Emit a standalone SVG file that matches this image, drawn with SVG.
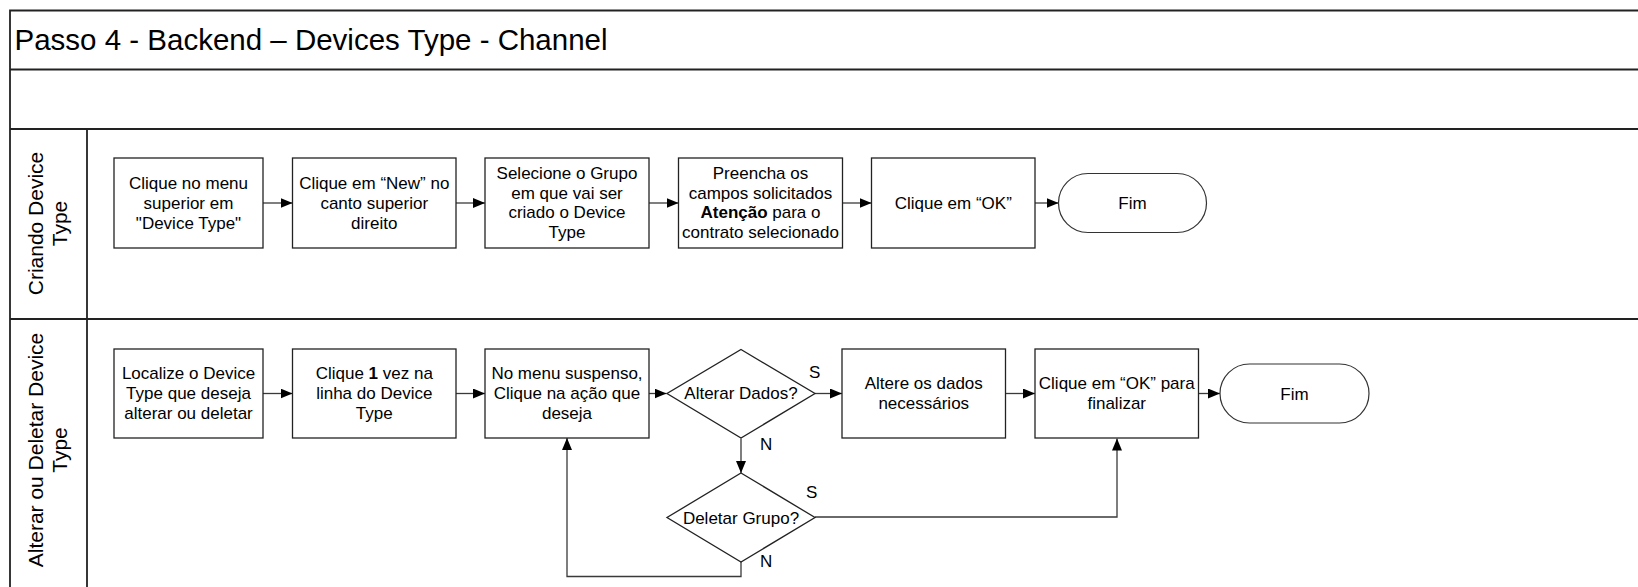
<svg xmlns="http://www.w3.org/2000/svg" width="1638" height="587" viewBox="0 0 1638 587">
<style>
.frame{fill:none;stroke:#222;stroke-width:1.8}
.box{fill:#fff;stroke:#222;stroke-width:1.3}
.term{fill:#fff;stroke:#333;stroke-width:1.2}
.t{font-family:"Liberation Sans",Arial,sans-serif;font-size:17px;fill:#000;text-anchor:middle}
.lbl{font-family:"Liberation Sans",Arial,sans-serif;font-size:17px;fill:#000}
.lane{font-family:"Liberation Sans",Arial,sans-serif;font-size:21px;fill:#000;text-anchor:middle}
.title{font-family:"Liberation Sans",Arial,sans-serif;font-size:29.5px;fill:#000}
.c{fill:none;stroke:#3a3a3a;stroke-width:1.3}
</style>
<defs>
<marker id="ah" markerUnits="userSpaceOnUse" markerWidth="12" markerHeight="10" refX="12" refY="5" orient="auto">
<path d="M0,0 L12,5 L0,10 z" fill="#000"/>
</marker>
</defs>
<rect width="1638" height="587" fill="#fff"/>
<g id="pool">
<path class="frame" d="M1640,10.5 H10 V590 M10,69.5 H1640 M10,129 H1640 M10,319 H1640 M87,129 V590"/>
<text class="title" x="14.5" y="50">Passo 4 - Backend – Devices Type - Channel</text>
</g>
<g id="lane1-label">
<text class="lane" transform="translate(42.5,223.5) rotate(-90)"><tspan x="0" y="0">Criando Device</tspan><tspan x="0" y="24">Type</tspan></text>
</g>
<g id="lane2-label">
<text class="lane" transform="translate(42.5,450) rotate(-90)"><tspan x="0" y="0">Alterar ou Deletar Device</tspan><tspan x="0" y="24">Type</tspan></text>
</g>
<g id="connectors">
<path class="c" marker-end="url(#ah)" d="M263,203 H292.5"/>
<path class="c" marker-end="url(#ah)" d="M456,203 H485"/>
<path class="c" marker-end="url(#ah)" d="M649,203 H678.5"/>
<path class="c" marker-end="url(#ah)" d="M842.5,203 H871.5"/>
<path class="c" marker-end="url(#ah)" d="M1035,203 H1058.5"/>
<path class="c" marker-end="url(#ah)" d="M263,393.5 H292.5"/>
<path class="c" marker-end="url(#ah)" d="M456,393.5 H485"/>
<path class="c" marker-end="url(#ah)" d="M649,393.5 H666.5"/>
<path class="c" marker-end="url(#ah)" d="M815,393.5 H842"/>
<path class="c" marker-end="url(#ah)" d="M1005.5,393.5 H1035"/>
<path class="c" marker-end="url(#ah)" d="M1198.5,393.5 H1220"/>
<path class="c" marker-end="url(#ah)" d="M741,438.5 V473"/>
<path class="c" marker-end="url(#ah)" d="M815,517 H1117 V438.5"/>
<path class="c" marker-end="url(#ah)" d="M741,562 V576.5 H567 V438"/>
<text class="lbl" x="809" y="378">S</text>
<text class="lbl" x="760" y="450">N</text>
<text class="lbl" x="806" y="498">S</text>
<text class="lbl" x="760" y="567">N</text>
</g>
<g id="n1"><rect class="box" x="114" y="158" width="149" height="90"/>
<text class="t"><tspan x="188.5" y="189">Clique no menu</tspan><tspan x="188.5" y="209">superior em</tspan><tspan x="188.5" y="229">"Device Type"</tspan></text></g>
<g id="n2"><rect class="box" x="292.5" y="158" width="163.5" height="90"/>
<text class="t"><tspan x="374.25" y="189">Clique em “New” no</tspan><tspan x="374.25" y="209">canto superior</tspan><tspan x="374.25" y="229">direito</tspan></text></g>
<g id="n3"><rect class="box" x="485" y="158" width="164" height="90"/>
<text class="t"><tspan x="567" y="179">Selecione o Grupo</tspan><tspan x="567" y="198.5">em que vai ser</tspan><tspan x="567" y="218">criado o Device</tspan><tspan x="567" y="237.5">Type</tspan></text></g>
<g id="n4"><rect class="box" x="678.5" y="158" width="164" height="90"/>
<text class="t"><tspan x="760.5" y="179">Preencha os</tspan><tspan x="760.5" y="198.5">campos solicitados</tspan><tspan x="760.5" y="218"><tspan font-weight="bold">Atenção</tspan> para o</tspan><tspan x="760.5" y="237.5">contrato selecionado</tspan></text></g>
<g id="n5"><rect class="box" x="871.5" y="158" width="163.5" height="90"/>
<text class="t" x="953.25" y="209">Clique em “OK”</text></g>
<g id="n6"><rect class="term" x="1058.5" y="173.5" width="148" height="59" rx="29.5"/>
<text class="t" x="1132.5" y="209">Fim</text></g>
<g id="n7"><rect class="box" x="114" y="349" width="149" height="89"/>
<text class="t"><tspan x="188.5" y="379">Localize o Device</tspan><tspan x="188.5" y="399">Type que deseja</tspan><tspan x="188.5" y="419">alterar ou deletar</tspan></text></g>
<g id="n8"><rect class="box" x="292.5" y="349" width="163.5" height="89"/>
<text class="t"><tspan x="374.25" y="379">Clique <tspan font-weight="bold">1</tspan> vez na</tspan><tspan x="374.25" y="399">linha do Device</tspan><tspan x="374.25" y="419">Type</tspan></text></g>
<g id="n9"><rect class="box" x="485" y="349" width="164" height="89"/>
<text class="t"><tspan x="567" y="379">No menu suspenso,</tspan><tspan x="567" y="399">Clique na ação que</tspan><tspan x="567" y="419">deseja</tspan></text></g>
<g id="n10"><path class="box" d="M741,349.5 L815,393.5 L741,438 L667,393.5 z"/>
<text class="t" x="741" y="399">Alterar Dados?</text></g>
<g id="n11"><path class="box" d="M741,473 L815,517.5 L741,562 L667,517.5 z"/>
<text class="t" x="741" y="523.5">Deletar Grupo?</text></g>
<g id="n12"><rect class="box" x="842" y="349" width="163.5" height="89"/>
<text class="t"><tspan x="923.75" y="389">Altere os dados</tspan><tspan x="923.75" y="409">necessários</tspan></text></g>
<g id="n13"><rect class="box" x="1035" y="349" width="163.5" height="89"/>
<text class="t"><tspan x="1116.75" y="389">Clique em “OK” para</tspan><tspan x="1116.75" y="409">finalizar</tspan></text></g>
<g id="n14"><rect class="term" x="1220" y="364" width="149" height="59" rx="29.5"/>
<text class="t" x="1294.5" y="400">Fim</text></g>
</svg>
